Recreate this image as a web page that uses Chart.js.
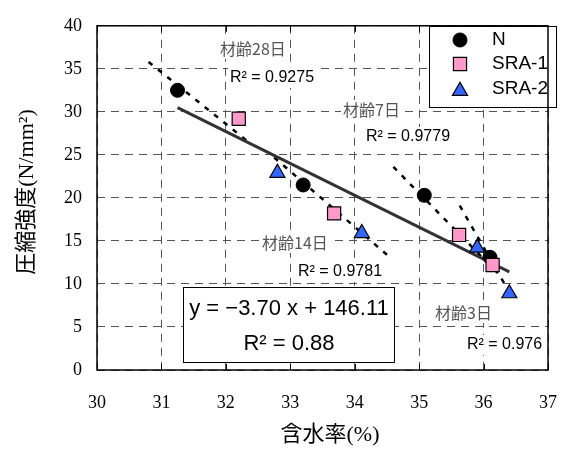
<!DOCTYPE html>
<html>
<head>
<meta charset="utf-8">
<style>
  html, body { margin: 0; padding: 0; background: #fff; }
  canvas { display: block; }
</style>
<script src="https://cdn.jsdelivr.net/npm/chart.js@4/dist/chart.umd.min.js"></script>
</head>
<body>
<canvas id="waterChart" width="579" height="455"></canvas>
<script>
// data
const nX = [31.25, 33.2, 35.08, 36.1];
const nY = [32.5, 21.5, 20.3, 13.1];
const sra1X = [32.2, 33.68, 35.62, 36.14];
const sra1Y = [29.2, 18.2, 15.7, 12.2];
const sra2X = [32.8, 34.11, 35.9, 36.4];
const sra2Y = [22.9, 15.9, 14.2, 8.9];

// trend lines per age (two end points each)
const age28X = [30.8, 32.35], age28Y = [35.8, 26.5];
const age14X = [32.75, 34.5], age14Y = [24.7, 13.4];
const age7X = [34.6, 36.28], age7Y = [23.6, 10.8];
const age3X = [35.63, 36.38], age3Y = [19.1, 9.3];
// overall regression y = -3.70 x + 146.11
const regX = [31.25, 36.4], regY = [30.5, 11.4];

const xTicks = [30, 31, 32, 33, 34, 35, 36, 37];
const yTicks = [0, 5, 10, 15, 20, 25, 30, 35, 40];

const seriesNames = ['N', 'SRA-1', 'SRA-2'];
const labels = [
  { text: '材齢28日', x: 220, y: 49, kind: 'age' },
  { text: 'R² = 0.9275', x: 230, y: 78, kind: 'r2' },
  { text: '材齢7日', x: 343, y: 110, kind: 'age' },
  { text: 'R² = 0.9779', x: 366, y: 137, kind: 'r2' },
  { text: '材齢14日', x: 262, y: 243, kind: 'age' },
  { text: 'R² = 0.9781', x: 298, y: 272, kind: 'r2' },
  { text: '材齢3日', x: 435, y: 313, kind: 'age' },
  { text: 'R² = 0.976', x: 467, y: 345, kind: 'r2' }
];

function pts(xs, ys) {
  return xs.map(function(x, i) { return { x: x, y: ys[i] }; });
}

function trend(xs, ys) {
  return {
    data: pts(xs, ys),
    showLine: true,
    borderColor: '#000',
    borderWidth: 2.5,
    borderDash: [5, 7],
    pointRadius: 0,
    order: 6
  };
}

const markerN = { pointStyle: 'circle', pointRadius: 7, backgroundColor: '#000', borderColor: '#000', borderWidth: 1 };
const markerS1 = { pointStyle: 'rect', pointRadius: 9.3, backgroundColor: '#ff99cc', borderColor: '#000', borderWidth: 1.2 };
const markerS2 = { pointStyle: 'triangle', pointRadius: 8.7, backgroundColor: '#3366ff', borderColor: '#000', borderWidth: 1.2 };
const markers = [markerN, markerS1, markerS2];

// draws frame, inward ticks, labels, equation box, legend, axis titles
const decor = {
  id: 'decor',
  beforeDatasetsDraw: function(chart) {
    const ctx = chart.ctx;
    ctx.save();
    labels.forEach(function(l) {
      if (l.kind === 'age') {
        ctx.font = '16px "Noto Sans CJK JP", sans-serif';
        ctx.fillStyle = '#555';
      } else {
        ctx.font = '16px "Liberation Sans", Arial, sans-serif';
        ctx.fillStyle = '#000';
      }
      const w = ctx.measureText(l.text).width;
      const col = ctx.fillStyle;
      ctx.fillStyle = '#fff';
      ctx.fillRect(l.x - 2, l.y - 10, w + 4, 20);
      ctx.fillStyle = col;
      ctx.textBaseline = 'middle';
      ctx.textAlign = 'left';
      ctx.fillText(l.text, l.x, l.y);
    });
    ctx.restore();
  },
  afterDraw: function(chart) {
    const ctx = chart.ctx;
    const a = chart.chartArea;
    const xs = chart.scales.x;
    ctx.save();

    // inward ticks on top and bottom
    ctx.strokeStyle = '#000';
    ctx.lineWidth = 1;
    ctx.setLineDash([]);
    xTicks.forEach(function(t) {
      const px = Math.round(xs.getPixelForValue(t)) + 0.5;
      ctx.beginPath();
      ctx.moveTo(px, a.bottom); ctx.lineTo(px, a.bottom - 6);
      ctx.moveTo(px, a.top); ctx.lineTo(px, a.top + 6);
      ctx.stroke();
    });

    // equation box
    ctx.fillStyle = '#fff';
    ctx.fillRect(183, 287, 211, 75);
    ctx.strokeStyle = '#000';
    ctx.lineWidth = 1;
    ctx.strokeRect(183.5, 287.5, 211, 75);
    ctx.fillStyle = '#000';
    ctx.font = '22px "Liberation Sans", Arial, sans-serif';
    ctx.textAlign = 'center';
    ctx.textBaseline = 'middle';
    ctx.fillText('y = \u22123.70 x + 146.11', 289, 309);
    ctx.fillText('R\u00b2 = 0.88', 289, 344);

    // legend
    ctx.fillStyle = '#fff';
    ctx.fillRect(429, 26, 127, 81);
    ctx.strokeRect(429.5, 26.5, 127, 81);
    const rows = [40, 64, 89];
    ctx.font = '19px "Liberation Sans", Arial, sans-serif';
    ctx.textAlign = 'left';
    seriesNames.forEach(function(name, i) {
      const m = markers[i];
      ctx.fillStyle = m.backgroundColor;
      ctx.strokeStyle = m.borderColor;
      ctx.lineWidth = m.borderWidth;
      Chart.helpers.drawPoint(ctx, { pointStyle: m.pointStyle, radius: m.pointRadius, borderWidth: m.borderWidth, rotation: 0 }, 460, rows[i] + (m.pointStyle === 'triangle' ? 2 : 0));
      ctx.fillStyle = '#000';
      ctx.fillText(name, 492, rows[i]);
    });

    // frame
    ctx.strokeStyle = '#000';
    ctx.lineWidth = 1.5;
    ctx.strokeRect(a.left, a.top, a.right - a.left, a.bottom - a.top);

    // axis titles
    ctx.fillStyle = '#000';
    ctx.font = '22px "Liberation Serif", "Noto Sans CJK JP", serif';
    ctx.textAlign = 'center';
    ctx.textBaseline = 'middle';
    ctx.fillText('含水率(%)', 330, 435);
    ctx.translate(27, 192);
    ctx.rotate(-Math.PI / 2);
    ctx.fillText('圧縮強度(N/mm\u00b2)', 0, 0);
    ctx.restore();
  }
};

const ctxWater = document.getElementById('waterChart').getContext('2d');
const waterChart = new Chart(ctxWater, {
  type: 'scatter',
  data: {
    datasets: [
      Object.assign({ label: seriesNames[2], data: pts(sra2X, sra2Y), order: 1 }, markerS2),
      Object.assign({ label: seriesNames[1], data: pts(sra1X, sra1Y), order: 2 }, markerS1),
      Object.assign({ label: seriesNames[0], data: pts(nX, nY), order: 3 }, markerN),
      {
        data: pts(regX, regY),
        showLine: true,
        borderColor: '#333',
        borderWidth: 3,
        pointRadius: 0,
        order: 4
      },
      trend(age28X, age28Y),
      trend(age14X, age14Y),
      trend(age7X, age7Y),
      trend(age3X, age3Y)
    ]
  },
  options: {
    responsive: false,
    animation: false,
    devicePixelRatio: 1,
    layout: {
      padding: { top: 18, right: 16, left: 0, bottom: 0 }
    },
    plugins: {
      legend: { display: false },
      tooltip: { enabled: false }
    },
    scales: {
      x: {
        type: 'linear',
        min: 30,
        max: 37,
        afterFit: function(scale) { scale.height = 85; },
        afterBuildTicks: function(scale) {
          scale.ticks = xTicks.map(function(v) { return { value: v }; });
        },
        grid: { color: '#555', lineWidth: 1, drawTicks: false },
        border: { display: false, dash: [8, 6] },
        ticks: {
          color: '#000',
          padding: 22,
          font: { family: '"Liberation Serif", serif', size: 18 }
        }
      },
      y: {
        type: 'linear',
        min: 0,
        max: 40,
        afterFit: function(scale) { scale.width = 97; },
        afterBuildTicks: function(scale) {
          scale.ticks = yTicks.map(function(v) { return { value: v }; });
        },
        grid: { color: '#555', lineWidth: 1, drawTicks: false },
        border: { display: false, dash: [8, 6] },
        ticks: {
          color: '#000',
          padding: 15,
          font: { family: '"Liberation Serif", serif', size: 18 }
        }
      }
    }
  },
  plugins: [decor]
});
</script>
</body>
</html>
